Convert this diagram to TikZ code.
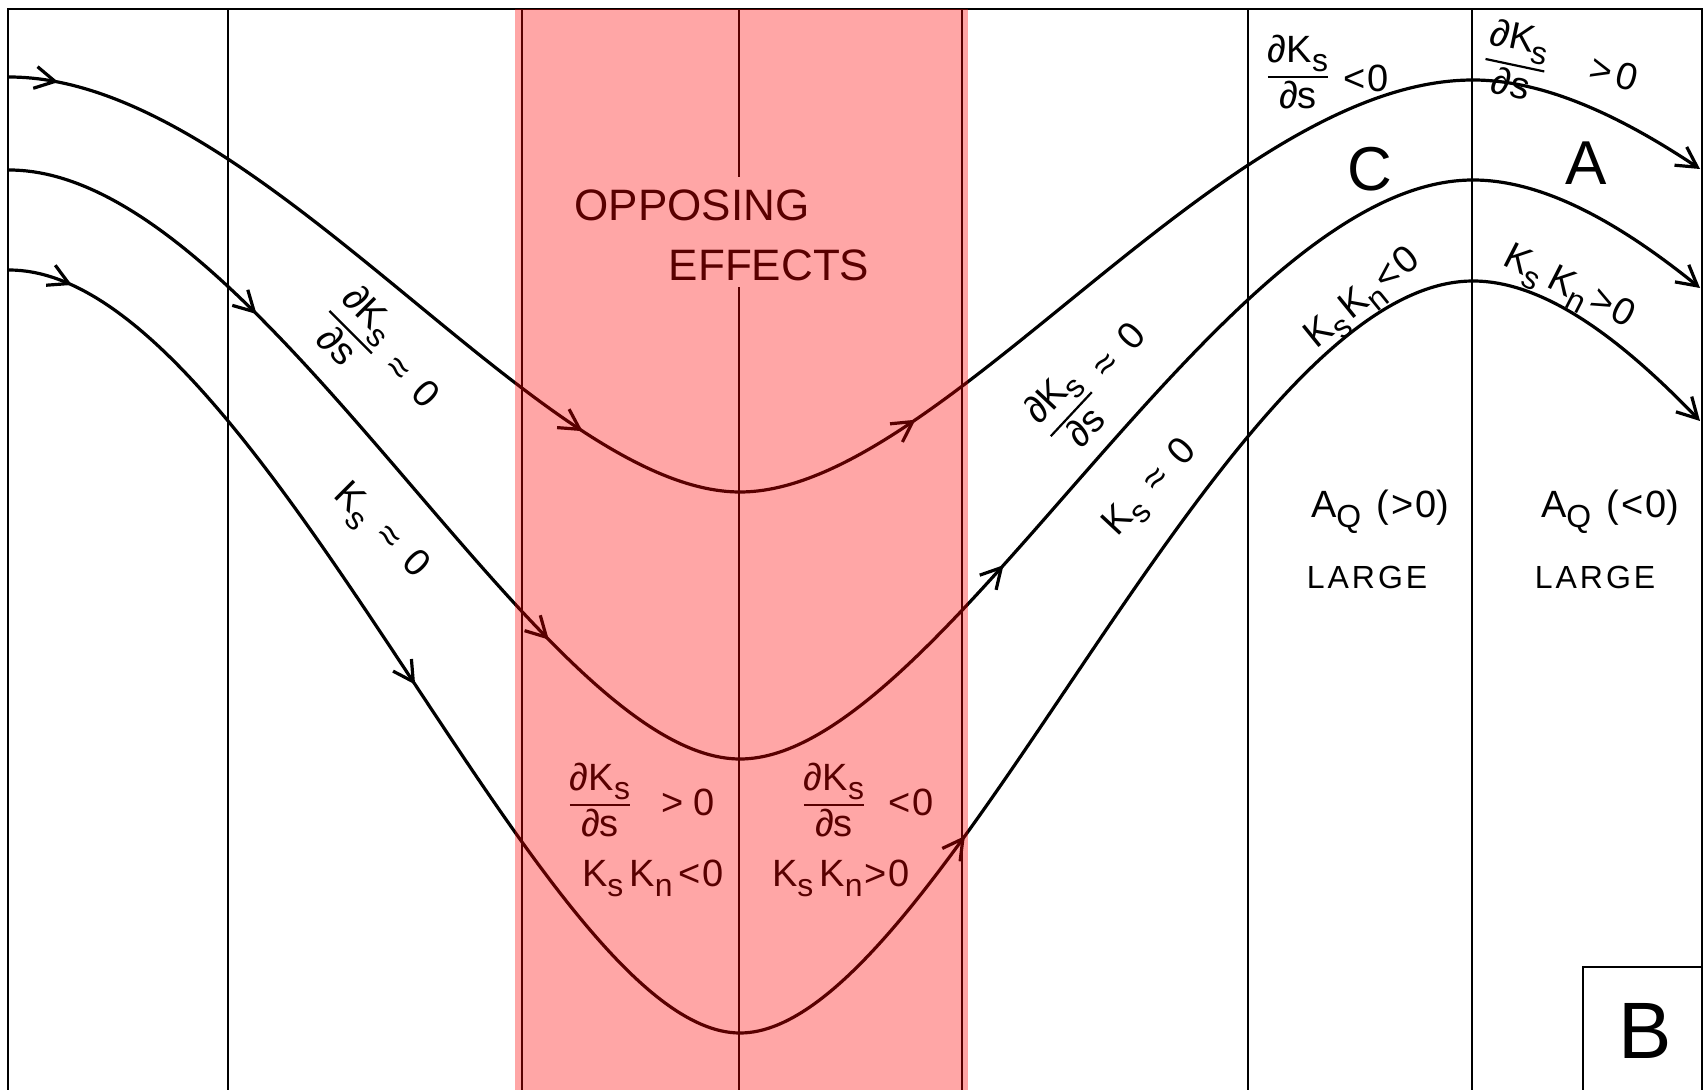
\documentclass[tikz,border=0pt]{standalone}
\usepackage{fontspec}
\usepackage{graphicx}
\setmainfont{Liberation Sans}
\usetikzlibrary{arrows.meta,decorations.markings}
\newcommand\sub[1]{\raisebox{-0.26em}{\scalebox{0.84}{#1}}}
\newcommand\pfr[2]{\ensuremath{\vcenter{\offinterlineskip\halign{\hfil##\hfil\cr\vphantom{K}#1\cr\noalign{\kern2pt\hrule height 1.1pt\kern1.5pt}\vphantom{K}#2\cr}}}}
\newcommand\tipmk{\arrow{Straight Barb[length=10pt,width=11pt]}}
\begin{document}
\begin{tikzpicture}[x=0.5pt,y=-0.5pt,
  frame/.style={line width=1.1pt},
  flow/.style={line width=1.6pt},
  lab/.style={inner sep=1pt, font=\fontsize{19}{22}\selectfont},
  sm/.style={inner sep=1pt, font=\fontsize{16}{19}\selectfont},
  bigl/.style={inner sep=0pt, font=\fontsize{31}{36}\selectfont},
  opp/.style={inner sep=0pt, font=\fontsize{22}{26}\selectfont},
  endtip/.style={-{Straight Barb[length=10pt,width=11pt]}}]
\useasboundingbox (0,0) rectangle (1708,1090);
\fill[white] (0,0) rectangle (1708,1090);
% frame and column lines
\draw[frame] (8,1090) -- (8,9) -- (1702,9) -- (1702,1090);
\foreach \xx in {228,522,739,962,1248,1472}
  \draw[frame] (\xx,9) -- (\xx,1090);
\draw[frame] (1583,1090) |- (1702,967);
% streamlines
\coordinate (p1a) at (9,77);   \coordinate (t1) at (740,492);  \coordinate (p1b) at (1473,80);   \coordinate (e1) at (1700,169);
\coordinate (p2a) at (9,170);  \coordinate (t2) at (740,759);  \coordinate (p2b) at (1473,180);  \coordinate (e2) at (1700,288);
\coordinate (p3a) at (9,270);  \coordinate (t3) at (740,1033); \coordinate (p3b) at (1473,281);  \coordinate (e3) at (1700,421);
\draw[flow, postaction={decorate}, decoration={markings, mark=at position 0.058 with {\tipmk}, mark=at position 0.80 with {\tipmk}}]
  (p1a) .. controls (259,77) and (540,492) .. (t1);
\draw[flow, postaction={decorate}, decoration={markings, mark=at position 0.225 with {\tipmk}}]
  (t1) .. controls (940,492) and (1223,80) .. (p1b);
\draw[flow, endtip] (p1b) .. controls (1545,80) and (1622,117) .. (e1);
\draw[flow, postaction={decorate}, decoration={markings, mark=at position 0.305 with {\tipmk}, mark=at position 0.76 with {\tipmk}}]
  (p2a) .. controls (259,170) and (540,759) .. (t2);
\draw[flow, postaction={decorate}, decoration={markings, mark=at position 0.35 with {\tipmk}}]
  (t2) .. controls (940,759) and (1223,180) .. (p2b);
\draw[flow, endtip] (p2b) .. controls (1545,180) and (1622,225) .. (e2);
\draw[flow, postaction={decorate}, decoration={markings, mark=at position 0.06 with {\tipmk}, mark=at position 0.55 with {\tipmk}}]
  (p3a) .. controls (259,270) and (540,1033) .. (t3);
\draw[flow, postaction={decorate}, decoration={markings, mark=at position 0.285 with {\tipmk}}]
  (t3) .. controls (940,1033) and (1223,281) .. (p3b);
\draw[flow, endtip] (p3b) .. controls (1545,281) and (1622,340) .. (e3);
% gap in the middle line behind the title
\fill[white] (727,177) rectangle (751,287);
% labels
\node[opp] (opp1) at (692,205) {OPPOSING};
\node[opp] (opp2) at (769,265) {EFFECTS};
\node[lab, rotate=-45] (l1) at (382,356) {\pfr{∂K\sub{s}}{∂s}\hspace{0.5em}≈\hspace{0.45em}0};
\node[lab, rotate=-45] (l2) at (380,532) {K\sub{s}\hspace{0.45em}≈\hspace{0.45em}0};
\node[lab, rotate=47] (r1) at (1094,382) {\pfr{∂K\sub{s}}{∂s}\hspace{0.5em}≈\hspace{0.45em}0};
\node[lab, rotate=47] (r2) at (1152,489) {K\sub{s}\hspace{0.45em}≈\hspace{0.45em}0};
\node[lab] (m1) at (600,800) {\pfr{∂K\sub{s}}{∂s}};
\node[lab] (m1b) at (688,802) {>\ 0};
\node[lab] (m2) at (653,878) {K\sub{s}\kern3pt K\sub{n}\kern3pt<\kern1pt0};
\node[lab] (m3) at (834,800) {\pfr{∂K\sub{s}}{∂s}};
\node[lab] (m3b) at (911,802) {<\kern1pt0};
\node[lab] (m4) at (841,878) {K\sub{s}\kern3pt K\sub{n}\kern1pt>\kern1pt0};
\node[lab] (c1) at (1298,72) {\pfr{∂K\sub{s}}{∂s}};
\node[lab] (c1b) at (1366,78) {<\kern1pt0};
\node[lab, rotate=-12] (a1) at (1516,60) {\pfr{∂K\sub{s}}{∂s}};
\node[lab, rotate=-15] (a1b) at (1614,73) {>\kern2pt0};
\node[bigl] (cc) at (1370,169) {C};
\node[bigl] (aa) at (1586,163) {A};
\node[lab, rotate=39] (c2) at (1364,300) {K\sub{s}\kern2pt K\sub{n}\kern1pt<\kern1pt0};
\node[lab, rotate=-27] (a2) at (1568,289) {K\sub{s}\kern4pt K\sub{n}\kern2pt>\kern1pt0};
\node[lab] (c3) at (1380,512) {A\sub{Q}\hspace{0.4em}(\kern1pt>\kern1pt0)};
\node[sm] (c4) at (1367,577) {L\kern1.5pt A\kern1.5pt R\kern1.5pt G\kern1.5pt E};
\node[lab] (a3) at (1610,512) {A\sub{Q}\hspace{0.4em}(\kern1pt<\kern1pt0)};
\node[sm] (a4) at (1595,577) {L\kern1.5pt A\kern1.5pt R\kern1.5pt G\kern1.5pt E};
\node[inner sep=0pt, font=\fontsize{40}{46}\selectfont] (bb) at (1645,1031) {B};
% pink band
\fill[red, opacity=0.35] (515,9) rectangle (968,1090);
\end{tikzpicture}
\end{document}
